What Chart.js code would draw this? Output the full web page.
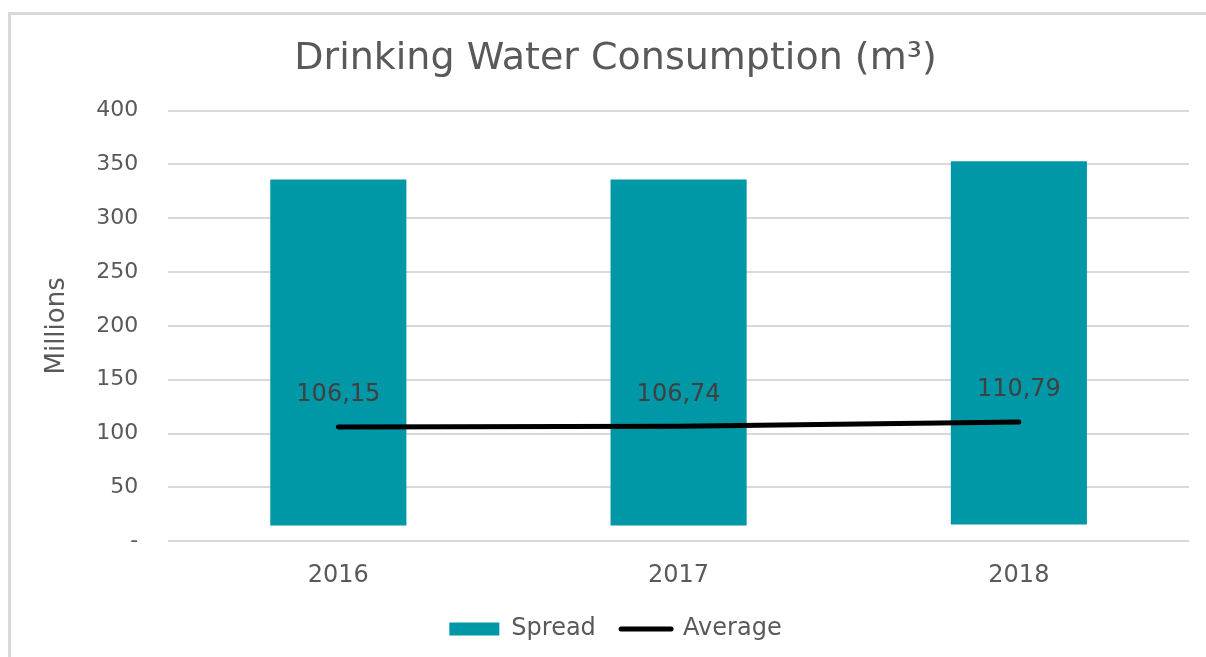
<!DOCTYPE html>
<html>
<head>
<meta charset="utf-8">
<script src="https://cdn.jsdelivr.net/npm/chart.js@4/dist/chart.umd.min.js"></script>
<style>
    html, body { margin: 0; background: #fff; overflow: hidden; width: 1206px; height: 657px; }
    .frame { position: absolute; left: 8px; top: 12px; width: 1195px; height: 645px; border-top: 3px solid #d9d9d9; border-left: 3px solid #d9d9d9; }
    .wrap { position: absolute; left: 0; top: 0; width: 1206px; height: 657px; }
</style>
</head>
<body>
<div class="frame"></div>
<div class="wrap"><canvas id="waterChart"></canvas></div>
<script>
// Data
const years = ['2016', '2017', '2018'];
const spreadLow = [14.5, 14.5, 15.5];
const spreadHigh = [336, 336, 353];
const averages = [106.15, 106.74, 110.79];
const yTicks = [0, 50, 100, 150, 200, 250, 300, 350, 400];

const FONT = '"DejaVu Sans", Verdana, sans-serif';
const TEXT = '#595959';

// Value labels above the average line
const avgLabels = {
    id: 'avgLabels',
    afterDatasetsDraw(chart) {
        const meta = chart.getDatasetMeta(1);
        const ctx = chart.ctx;
        ctx.save();
        ctx.font = '24px ' + FONT;
        ctx.fillStyle = '#404040';
        ctx.textAlign = 'center';
        ctx.textBaseline = 'middle';
        meta.data.forEach(function(pt, i) {
            ctx.fillText(averages[i].toFixed(2).replace('.', ','), pt.x, pt.y - 32);
        });
        ctx.restore();
    }
};

const ctx = document.getElementById('waterChart').getContext('2d');
const waterChart = new Chart(ctx, {
    type: 'bar',
    data: {
        labels: years,
        datasets: [{
            label: 'Spread',
            data: years.map((y, i) => [spreadLow[i], spreadHigh[i]]),
            backgroundColor: '#0097a7',
            borderWidth: 0,
            categoryPercentage: 1,
            barPercentage: 0.4,
            order: 2
        }, {
            type: 'line',
            label: 'Average',
            data: averages,
            borderColor: '#000',
            backgroundColor: '#000',
            borderWidth: 5,
            borderCapStyle: 'round',
            pointRadius: 0,
            tension: 0,
            order: 1
        }]
    },
    options: {
        responsive: true,
        maintainAspectRatio: false,
        animation: false,
        layout: { padding: { left: 42, right: 17, top: 36, bottom: 6 } },
        plugins: {
            tooltip: { enabled: false },
            title: {
                display: true,
                text: 'Drinking Water Consumption (m³)',
                color: TEXT,
                font: { family: FONT, size: 38, weight: 'normal' },
                padding: { top: 0, bottom: 29 }
            },
            legend: {
                display: true,
                position: 'bottom',
                labels: {
                    usePointStyle: true,
                    pointStyleWidth: 50,
                    boxHeight: 13,
                    color: TEXT,
                    padding: 10,
                    font: { family: FONT, size: 24 },
                    generateLabels: function(chart) {
                        return [{
                            text: 'Spread  ', datasetIndex: 0, pointStyle: 'rect',
                            fillStyle: '#0097a7', strokeStyle: '#0097a7', lineWidth: 0, fontColor: TEXT
                        }, {
                            text: 'Average', datasetIndex: 1, pointStyle: 'line',
                            fillStyle: '#000', strokeStyle: '#000', lineWidth: 5, lineCap: 'round', fontColor: TEXT
                        }];
                    }
                }
            }
        },
        scales: {
            x: {
                grid: { display: false },
                border: { display: false },
                afterFit: function(scale) { scale.height += 5; },
                ticks: { color: TEXT, padding: 12, font: { family: FONT, size: 24 } }
            },
            y: {
                min: 0,
                max: 400,
                afterBuildTicks: function(scale) {
                    scale.ticks = yTicks.map(v => ({ value: v }));
                },
                afterFit: function(scale) { scale.width -= 7; },
                grid: { color: '#d9d9d9', lineWidth: 2, drawTicks: false },
                border: { display: false },
                title: {
                    display: true,
                    text: 'Millions',
                    color: TEXT,
                    font: { family: FONT, size: 26 },
                    padding: { top: 0, bottom: 0 }
                },
                ticks: {
                    color: TEXT,
                    padding: 30,
                    font: { family: FONT, size: 22 },
                    callback: function(value) {
                        return value === 0 ? '-' : value;
                    }
                }
            }
        }
    },
    plugins: [avgLabels]
});
</script>
</body>
</html>
